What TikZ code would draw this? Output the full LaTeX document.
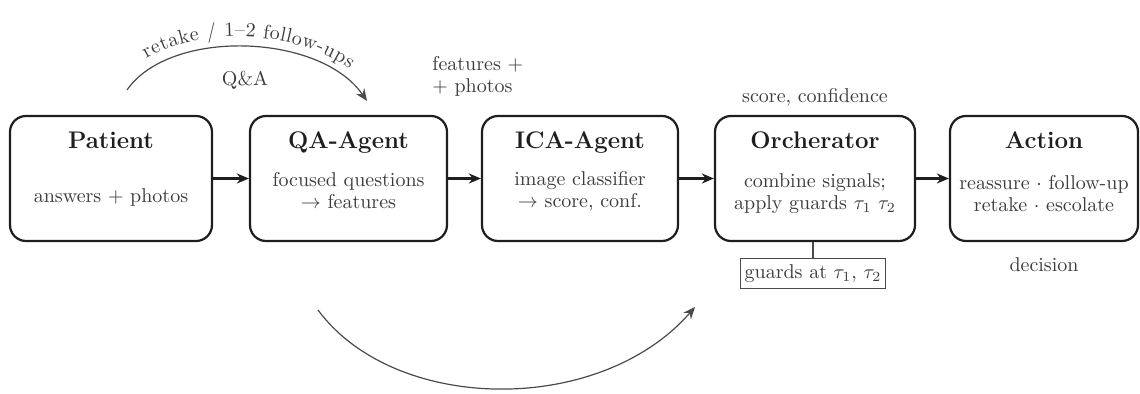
\documentclass[tikz,border=0pt]{standalone}
\usepackage{fontspec}
\usetikzlibrary{arrows.meta,decorations.text,positioning}

\definecolor{ink}{HTML}{1E1E1E}
\definecolor{soft}{HTML}{3C3C3C}
\definecolor{linegray}{HTML}{4A4A4A}

\tikzset{
  stage/.style={draw=ink, line width=1.1pt, rounded corners=8pt, fill=white,
    minimum height=62.5pt, inner sep=0pt},
  title/.style={font=\large\bfseries, text=ink, inner sep=0pt, anchor=base},
  body/.style={font=\normalsize, text=soft, align=center, inner sep=0pt},
  note/.style={font=\normalsize, text=soft, inner sep=0pt},
  flow/.style={draw=ink, line width=1.1pt, -{Stealth[length=6pt,width=5pt]}},
  loop/.style={draw=linegray, line width=0.6pt, -{Stealth[length=6pt,width=5pt]}},
  guardbox/.style={draw=linegray, line width=0.5pt, fill=white, font=\normalsize,
    text=soft, inner xsep=2pt, inner ysep=3pt}
}

\begin{document}
\begin{tikzpicture}[x=0.5pt, y=-0.5pt]
  \useasboundingbox (0,0) rectangle (1140,394);

  % pipeline stages
  \node[stage, minimum width=101pt] (patient) at (111,178.5) {};
  \node[stage, minimum width=98.5pt] (qa) at (348.5,178.5) {};
  \node[stage, minimum width=98pt] (ica) at (580,178.5) {};
  \node[stage, minimum width=100pt] (orch) at (815,178.5) {};
  \node[stage, minimum width=94pt] (action) at (1044,178.5) {};

  % stage titles
  \node[title] (tpatient) at (111,149) {Patient};
  \node[title] (tqa) at (348.5,149) {QA-Agent};
  \node[title] (tica) at (580,149) {ICA-Agent};
  \node[title] (torch) at (815,149) {Orcherator};
  \node[title] (taction) at (1044,149) {Action};

  % stage contents
  \node[body] (bpatient) at (111,198) {answers + photos};
  \node[body] (bqa) at (348.5,191) {focused questions\\[-1pt] $\rightarrow$ features};
  \node[body] (bica) at (580,191) {image classifier\\[-1pt] $\rightarrow$ score, conf.};
  \node[body] (borch) at (815,194) {combine signals;\\[-1pt] apply guards $\tau_1\ \tau_2$};
  \node[body] (baction) at (1044,194) {reassure $\cdot$ follow-up\\[-1pt] retake $\cdot$ escolate};

  % main flow
  \draw[flow] (patient.east) -- (qa.west);
  \draw[flow] (qa.east) -- (ica.west);
  \draw[flow] (ica.east) -- (orch.west);
  \draw[flow] (orch.east) -- (action.west);

  % labels around the flow
  \node[note, align=left, anchor=north west] (feat) at (432,56) {features +\\[-1pt] + photos};
  \node[note] (conf) at (815,97) {score, confidence};
  \node[note] (dec) at (1044,265) {decision};
  \node[note] (qalabel) at (245,80) {Q\&A};

  % guard thresholds
  \node[guardbox] (guards) at (813,274) {guards at $\tau_1$, $\tau_2$};
  \draw[linegray, line width=0.6pt] (orch.south -| guards.north) -- (guards.north);

  % follow-up loop back into the QA agent
  \coordinate (loopstart) at (127,90);
  \coordinate (loopend) at (367,101);
  \draw[loop, postaction={decorate, decoration={text along path,
      text={|\color{soft}|retake / 1–2 follow-ups}, text align=center, raise=5pt}}]
    (loopstart) .. controls (170,28) and (320,33) .. (loopend);

  % bypass from the QA stage to the guards
  \coordinate (bypassstart) at (318,310);
  \coordinate (bypassend) at (695,307);
  \draw[loop] (bypassstart) .. controls (395,414) and (600,416) .. (bypassend);
\end{tikzpicture}
\end{document}
